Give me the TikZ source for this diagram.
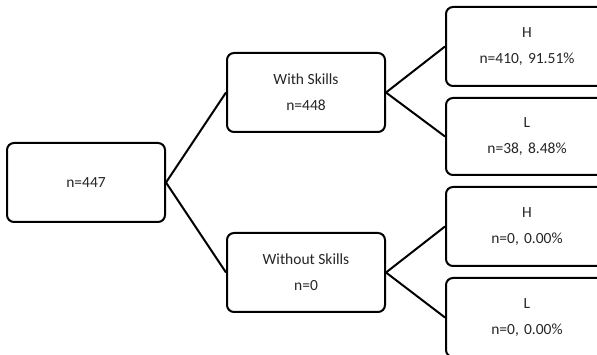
\documentclass[tikz,border=0pt]{standalone}
\usepackage{fontspec}
\setmainfont{Carlito}
\begin{document}
\begin{tikzpicture}[x=1pt,y=-1pt,
  box/.style={draw=black, line width=2pt, rounded corners=7pt, fill=white,
    align=center, font=\fontsize{15.5}{26}\selectfont, text=black!85, inner sep=0pt},
  link/.style={draw=black, line width=2pt}]
\useasboundingbox (0,0) rectangle (597,355);
% root
\node[box, minimum width=158pt, minimum height=79pt] (root) at (86,182.5) {n=447};
% second level
\node[box, minimum width=158pt, minimum height=79pt] (ws) at (306,92.5) {With Skills\\n=448};
\node[box, minimum width=158pt, minimum height=79pt] (wo) at (306,272.5) {Without Skills\\n=0};
% leaves
\node[box, minimum width=162pt, minimum height=79pt, text width=150pt] (h1) at (527,46.5) {H\\n=410, 91.51\%};
\node[box, minimum width=162pt, minimum height=77pt, text width=150pt] (l1) at (527,136.5) {L\\n=38, 8.48\%};
\node[box, minimum width=162pt, minimum height=79pt, text width=150pt] (h2) at (527,226.5) {H\\n=0, 0.00\%};
\node[box, minimum width=162pt, minimum height=79pt, text width=150pt] (l2) at (527,317.5) {L\\n=0, 0.00\%};
% connectors
\draw[link] (root.east) -- (ws.west);
\draw[link] (root.east) -- (wo.west);
\draw[link] (ws.east) -- (h1.west);
\draw[link] (ws.east) -- (l1.west);
\draw[link] (wo.east) -- (h2.west);
\draw[link] (wo.east) -- (l2.west);
\end{tikzpicture}
\end{document}
